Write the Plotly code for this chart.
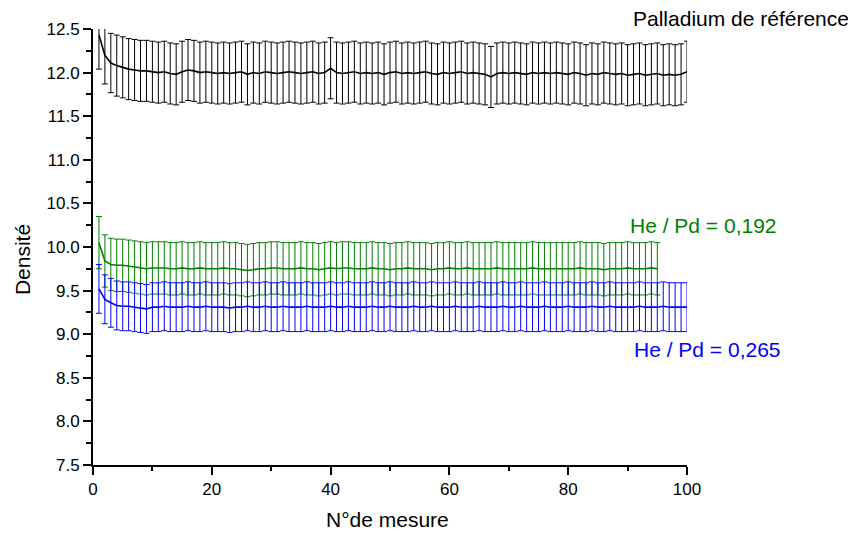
import plotly.graph_objects as go

# ---------------- data ----------------
ref_x = list(range(1, 101))
ref_y = [12.43, 12.20, 12.11, 12.08, 12.06, 12.04, 12.03, 12.02, 12.02, 12.01,
         12.00, 12.01, 11.99, 11.98, 12.01, 12.03, 12.02, 12.00, 12.01, 12.00,
         11.99, 12.00, 11.99, 12.00, 12.01, 11.98, 12.00, 11.99, 12.01, 12.00,
         11.99, 12.00, 12.01, 12.00, 11.99, 12.00, 12.01, 11.99, 12.00, 12.05,
         12.00, 11.99, 12.00, 12.01, 11.99, 12.00, 11.99, 12.00, 11.98, 12.00,
         12.01, 11.99, 12.00, 11.99, 12.00, 12.01, 11.99, 11.98, 12.00, 11.99,
         12.00, 12.01, 11.99, 12.00, 11.99, 11.98, 11.95, 11.99, 12.00, 11.99,
         12.00, 11.99, 11.98, 12.00, 11.99, 12.00, 11.99, 12.00, 11.99, 11.98,
         12.00, 11.99, 11.97, 11.99, 11.98, 12.00, 11.99, 11.98, 11.99, 11.97,
         11.98, 11.99, 11.97, 11.98, 11.99, 11.97, 11.98, 11.97, 11.98, 12.01]
ref_err = [0.39, 0.33, 0.34, 0.35, 0.35, 0.35, 0.35, 0.35, 0.35, 0.35] + [0.35] * 90

g_x = list(range(1, 96))
g_y = [10.05, 9.84, 9.80, 9.79, 9.79, 9.78, 9.77, 9.76, 9.75, 9.76,
       9.76, 9.76, 9.75, 9.75, 9.76, 9.75, 9.75, 9.76, 9.75, 9.75,
       9.75, 9.76, 9.75, 9.75, 9.74, 9.73, 9.74, 9.75, 9.75, 9.76,
       9.76, 9.75, 9.75, 9.75, 9.76, 9.75, 9.75, 9.74, 9.75, 9.76,
       9.75, 9.76, 9.76, 9.75, 9.75, 9.75, 9.76, 9.75, 9.75, 9.74,
       9.75, 9.75, 9.76, 9.75, 9.75, 9.75, 9.74, 9.75, 9.75, 9.76,
       9.75, 9.75, 9.76, 9.75, 9.75, 9.75, 9.75, 9.76, 9.75, 9.75,
       9.75, 9.75, 9.75, 9.76, 9.75, 9.75, 9.75, 9.75, 9.75, 9.75,
       9.75, 9.76, 9.75, 9.75, 9.75, 9.74, 9.75, 9.75, 9.75, 9.76,
       9.75, 9.75, 9.75, 9.76, 9.75]
g_err = [0.30] + [0.30] * 94

b_x = list(range(1, 101))
b_y = [9.52, 9.40, 9.36, 9.33, 9.32, 9.32, 9.31, 9.30, 9.29, 9.31,
       9.31, 9.32, 9.31, 9.31, 9.31, 9.32, 9.31, 9.31, 9.32, 9.31,
       9.31, 9.31, 9.30, 9.31, 9.31, 9.32, 9.31, 9.31, 9.32, 9.31,
       9.31, 9.32, 9.31, 9.31, 9.31, 9.32, 9.31, 9.31, 9.31, 9.32,
       9.31, 9.31, 9.32, 9.31, 9.31, 9.31, 9.32, 9.31, 9.31, 9.32,
       9.31, 9.31, 9.31, 9.32, 9.31, 9.31, 9.32, 9.31, 9.31, 9.31,
       9.32, 9.31, 9.31, 9.31, 9.32, 9.31, 9.31, 9.31, 9.32, 9.31,
       9.31, 9.32, 9.31, 9.31, 9.31, 9.32, 9.31, 9.31, 9.31, 9.32,
       9.31, 9.31, 9.31, 9.32, 9.31, 9.31, 9.32, 9.31, 9.31, 9.31,
       9.31, 9.32, 9.31, 9.31, 9.31, 9.32, 9.31, 9.31, 9.31, 9.31]
b_err = [0.28] * 100

x_ticks = [0, 20, 40, 60, 80, 100]
y_ticks = [7.5, 8.0, 8.5, 9.0, 9.5, 10.0, 10.5, 11.0, 11.5, 12.0, 12.5]

FONT = "Liberation Sans, Arial, sans-serif"
GREEN = "#008000"
BLUE = "#0000ff"

fig = go.Figure()

def add_series(x, y, err, color):
    fig.add_trace(go.Scatter(
        x=x, y=y, mode="lines",
        line=dict(color=color, width=1.6),
        error_y=dict(type="data", array=err, visible=True,
                     color=color, thickness=1, width=3),
        showlegend=False, cliponaxis=True,
    ))

add_series(g_x, g_y, g_err, GREEN)
add_series(b_x, b_y, b_err, BLUE)
add_series(ref_x, ref_y, ref_err, "#000000")

ann_font = dict(family=FONT, size=21)
fig.add_annotation(text="Palladium de référence", x=0.906, y=1.025, xref="paper", yref="paper",
                   xanchor="left", yanchor="middle", showarrow=False,
                   font=dict(ann_font, color="black"))
fig.add_annotation(text="He / Pd = 0,192", x=0.9, y=10.25, xref="paper", yref="y",
                   xanchor="left", yanchor="middle", showarrow=False,
                   font=dict(ann_font, color=GREEN))
fig.add_annotation(text="He / Pd = 0,265", x=0.907, y=8.82, xref="paper", yref="y",
                   xanchor="left", yanchor="middle", showarrow=False,
                   font=dict(ann_font, color=BLUE))
# axis titles
fig.add_annotation(text="Densité", x=-0.1195, y=0.47, xref="paper", yref="paper",
                   xanchor="center", yanchor="middle", textangle=-90, showarrow=False,
                   font=dict(ann_font, color="black"))
fig.add_annotation(text="N°de mesure", x=0.4966, y=-0.126, xref="paper", yref="paper",
                   xanchor="center", yanchor="middle", showarrow=False,
                   font=dict(ann_font, color="black"))

# the page body adds an 8px offset, so the figure is 8px smaller and margins shifted
fig.update_layout(
    width=848, height=525,
    margin=dict(l=85, r=169, t=21, b=68, autoexpand=False),
    paper_bgcolor="white", plot_bgcolor="white",
    font=dict(family=FONT, size=17, color="black"),
    xaxis=dict(range=[0, 100], tickvals=x_ticks, ticktext=[str(v) for v in x_ticks],
               automargin=False,
               showgrid=False, zeroline=False, showline=True, linecolor="black", linewidth=2,
               ticks="outside", ticklen=8, tickwidth=2, tickcolor="black",
               minor=dict(tickvals=[10, 30, 50, 70, 90], ticks="outside", ticklen=4,
                          tickwidth=2, tickcolor="black")),
    yaxis=dict(range=[7.5, 12.5], tickvals=y_ticks, ticktext=[f"{v:.1f}" for v in y_ticks],
               automargin=False,
               showgrid=False, zeroline=False, showline=True, linecolor="black", linewidth=2,
               ticks="outside", ticklen=8, tickwidth=2, tickcolor="black",
               minor=dict(tickvals=[7.75 + 0.5 * i for i in range(10)], ticks="outside",
                          ticklen=5, tickwidth=2, tickcolor="black")),
)

fig.write_html("out.html")
